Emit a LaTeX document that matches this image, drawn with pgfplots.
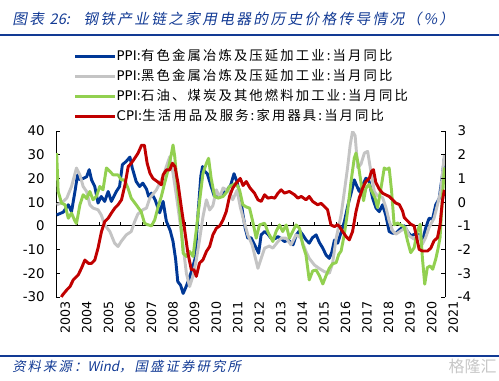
\documentclass[border=0pt]{standalone}
\usepackage{fontspec}
\usepackage{pgfplots}
\pgfplotsset{compat=1.18}
\setmainfont{DejaVu Sans}
\newfontfamily\cjkleg{Noto Sans CJK SC}[LetterSpace=16]
\newfontfamily\cjktitle{Noto Sans CJK SC}[FakeSlant=0.2,LetterSpace=16]
\newfontfamily\lattitle{Noto Sans CJK SC}[FakeSlant=0.2]
\newfontfamily\cjkplain{Noto Sans CJK SC}
\definecolor{cblue}{RGB}{0,56,150}
\definecolor{cgray}{RGB}{196,196,196}
\definecolor{cgreen}{RGB}{146,208,80}
\definecolor{cred}{RGB}{192,0,0}
\definecolor{tblue}{RGB}{18,58,148}
\begin{document}
\begin{tikzpicture}
\useasboundingbox (0pt,0pt) rectangle (374.25pt,285pt);
\node[anchor=base west, text=tblue, font=\fontsize{11}{11}\selectfont, inner sep=0pt] at (9pt,267pt) {{\cjktitle 图表}{\lattitle\ \,26:}\hspace{10pt}{\cjktitle 钢铁产业链之家用电器的历史价格传导情况（\%）}};
\draw[tblue, line width=1.6pt] (0pt,258.75pt) -- (374.25pt,258.75pt);
\draw[tblue, line width=1.6pt] (0pt,18pt) -- (374.25pt,18pt);
\node[anchor=base west, text=tblue, font=\fontsize{10}{10}\selectfont, inner sep=0pt] at (9pt,6.75pt) {{\cjktitle 资料来源：}{\lattitle Wind}{\cjktitle ，国盛证券研究所}};
\node[anchor=base east, text=black!22, font=\cjkplain\fontsize{12}{12}\selectfont, inner sep=0pt] at (372.75pt,5.5pt) {格隆汇};

\begin{axis}[
  at={(42pt,62.25pt)}, anchor=south west, scale only axis,
  width=291.75pt, height=124.5pt,
  xmin=2003, xmax=2021.05, ymin=-30, ymax=40,
  axis y line*=left, axis x line*=bottom,
  x axis line style={draw=none}, xtick style={draw=none},
  xtick={2003,2004,...,2021},
  xticklabels={2003,2004,2005,2006,2007,2008,2009,2010,2011,2012,2013,2014,2015,2016,2017,2018,2019,2020,2021},
  xticklabel style={rotate=90, anchor=east, font=\fontsize{9.5}{10}\selectfont, yshift=-7pt},
  ytick={-30,-20,...,40},
  yticklabel style={font=\fontsize{10}{10}\selectfont, xshift=-5pt},
  /pgf/number format/assume math mode=true,
  tick align=inside, major tick length=3pt,
  y axis line style={line width=0.6pt}, ytick style={line width=0.6pt, black},
  legend style={at={(0.045,1.49)}, anchor=north west, draw=none, fill=none,
    font=\fontsize{10}{10}\selectfont, row sep=5pt, inner sep=0pt,
    nodes={inner sep=0pt, text height=8pt, text depth=2pt}},
  legend cell align=left,
  legend image code/.code={\draw[#1] (0pt,0pt) -- (30pt,0pt);},
  every axis plot/.append style={line join=round},
]
\draw[black, line width=0.6pt] (axis cs:2003,0) -- (axis cs:2021.05,0);
\pgfplotsinvokeforeach{2004,2005,...,2020}{\draw[black, line width=0.6pt] (axis cs:#1,0) -- ++(0pt,3pt);}
\addplot[cblue, line width=2.2pt] table {
2003.03 4.6
2003.34 5.8
2003.57 8.9
2003.72 6.0
2003.88 14.5
2004.00 21.5
2004.11 19.4
2004.26 20.0
2004.42 20.7
2004.54 23.7
2004.65 19.4
2004.80 16.6
2004.95 9.6
2005.10 12.4
2005.26 10.3
2005.42 14.5
2005.57 10.3
2005.80 14.5
2005.95 16.6
2006.08 25.8
2006.26 27.2
2006.43 29.0
2006.54 24.4
2006.72 18.7
2006.88 16.6
2007.03 18.0
2007.20 15.5
2007.30 12.4
2007.43 13.8
2007.60 11.0
2007.81 5.5
2007.97 10.3
2008.12 2.0
2008.30 -2.0
2008.43 -6.6
2008.55 -14
2008.65 -23.5
2008.78 -25
2008.90 -28.5
2009.02 -26
2009.15 -23
2009.28 -19.3
2009.45 -14
2009.59 5.0
2009.72 21
2009.80 25
2009.90 23
2010.02 22
2010.20 16.6
2010.35 12.4
2010.55 13
2010.75 13.5
2010.92 15
2011.10 17
2011.26 22
2011.40 18.5
2011.55 12.5
2011.67 5.0
2011.78 -1
2011.90 -5.2
2012.05 -5
2012.29 -9.4
2012.40 -11.5
2012.52 -3.8
2012.68 -2.4
2012.83 -3.5
2012.98 -5.2
2013.15 -5.5
2013.30 -4.5
2013.45 -5.5
2013.60 -6.6
2013.78 -6
2014.00 -8
2014.15 -3.8
2014.30 -2
2014.45 -3.8
2014.60 -5.9
2014.75 -7.3
2014.90 -5
2015.07 -3.8
2015.22 -7
2015.38 -9.4
2015.53 -12.3
2015.68 -13.7
2015.80 -11
2015.92 -6
2016.07 -7.3
2016.22 -3
2016.38 1.8
2016.55 8.9
2016.70 14
2016.84 19.4
2016.95 17
2017.07 14.5
2017.22 17
2017.38 20.1
2017.52 19
2017.69 11.7
2017.85 7.5
2018.00 6.0
2018.15 8.9
2018.30 4.6
2018.46 -2.4
2018.62 -3.1
2018.77 -3.1
2018.95 -1.5
2019.16 0
2019.31 -2.4
2019.47 -4.2
2019.65 -3.5
2019.85 -3.8
2020.00 -6.6
2020.15 -1
2020.31 3.2
2020.47 2.8
2020.62 8.9
2020.78 11.5
2020.93 21.5
2021.02 28.6
};
\addlegendentry{PPI:{\cjkleg 有色金属冶炼及压延加工业:当月同比}}
\addplot[cgray, line width=2.2pt] table {
2003.03 8.9
2003.25 9.6
2003.50 11.7
2003.72 16.6
2003.95 24.4
2004.11 21.5
2004.26 16.6
2004.42 14.5
2004.57 8.9
2004.72 7.5
2004.95 6.8
2005.10 4.6
2005.26 0.4
2005.50 -2.4
2005.72 -7.3
2005.88 -8.7
2006.03 -6.5
2006.26 -3.8
2006.49 -2.4
2006.65 1.8
2006.80 5.0
2007.03 6.8
2007.20 7.5
2007.35 11.7
2007.66 15.2
2007.97 20.8
2008.12 25
2008.28 29.2
2008.43 22.2
2008.59 12.4
2008.74 2.5
2008.90 -8.7
2009.05 -20
2009.20 -25.6
2009.35 -21.3
2009.51 -14.3
2009.66 -5.9
2009.82 3.9
2009.98 11
2010.13 6.7
2010.28 8.5
2010.44 15.2
2010.60 12
2010.75 16
2010.90 15.2
2011.05 14.5
2011.20 11
2011.40 15
2011.55 8
2011.72 2
2011.90 -3.8
2012.10 -8
2012.37 -17.9
2012.52 -13.7
2012.68 -9.4
2012.90 -8.5
2013.06 -9.4
2013.30 -6.6
2013.45 -5.2
2013.68 -5.2
2013.90 -8
2014.14 -3.8
2014.35 -5
2014.60 -10.8
2014.75 -13.7
2014.99 -16.5
2015.22 -18
2015.45 -19.3
2015.68 -20
2015.83 -16
2016.00 -5.2
2016.10 -1
2016.23 4.6
2016.38 14.5
2016.53 24.6
2016.65 34
2016.76 39.9
2016.88 38
2017.00 24.6
2017.15 26
2017.31 30.7
2017.46 31.4
2017.61 23
2017.77 14.5
2017.92 12.7
2018.15 12
2018.31 7.7
2018.46 2
2018.62 -2.1
2018.77 -3.5
2019.00 -2.1
2019.23 -0.7
2019.39 -4.2
2019.62 -5.6
2019.85 -4.2
2020.00 -7.7
2020.15 -5
2020.31 -0.7
2020.54 3.2
2020.70 8.9
2020.85 14.5
2021.02 30
};
\addlegendentry{PPI:{\cjkleg 黑色金属冶炼及压延加工业:当月同比}}
\addplot[cgreen, line width=2.2pt] table {
2003.03 30.7
2003.10 14.5
2003.26 9.6
2003.42 8.9
2003.57 3.2
2003.72 5.4
2003.88 2.0
2003.95 1.0
2004.11 8.9
2004.26 13.1
2004.42 11.5
2004.57 14.5
2004.72 11.0
2004.88 12.5
2005.03 16.6
2005.18 15.2
2005.34 24.4
2005.50 23
2005.65 21.5
2005.88 21.5
2006.03 19.4
2006.18 19.4
2006.34 15.9
2006.49 11.7
2006.72 8.9
2006.95 6.0
2007.11 1.1
2007.25 0.5
2007.43 0
2007.58 2.5
2007.74 8.1
2007.89 12.5
2008.04 18
2008.20 23.6
2008.36 30.6
2008.43 34.1
2008.51 29.2
2008.66 13.8
2008.78 2.5
2008.90 -11.5
2009.05 -12.9
2009.20 -10.8
2009.36 -12.9
2009.51 -1.7
2009.67 11
2009.82 22.2
2009.98 26.4
2010.08 28.5
2010.20 20
2010.36 12.4
2010.52 11.7
2010.75 12.4
2010.90 14
2011.05 16.6
2011.20 17.3
2011.36 18
2011.52 15.0
2011.67 8.9
2011.82 8
2011.98 7.5
2012.13 1.8
2012.29 -5.2
2012.44 0.4
2012.68 1.1
2012.83 -2.5
2013.06 -6.6
2013.21 -2.4
2013.37 0.4
2013.52 -2.4
2013.68 0.4
2013.83 -5.2
2013.98 -2.4
2014.14 0.4
2014.30 -1
2014.45 -8
2014.60 -12.3
2014.75 -22.8
2014.91 -19
2015.07 -18.6
2015.22 -21
2015.38 -24.5
2015.53 -21
2015.68 -17.9
2015.83 -16
2016.00 -15.5
2016.12 -12
2016.23 -10.6
2016.38 -3.5
2016.53 6.2
2016.69 18.7
2016.84 28.6
2016.92 30.7
2017.03 25.8
2017.15 18.3
2017.27 10.6
2017.38 15.9
2017.53 17.5
2017.64 14.8
2017.80 11.9
2017.92 7.7
2018.08 15.9
2018.23 24.4
2018.35 23.8
2018.46 24.4
2018.57 14.8
2018.69 0.4
2018.85 1.2
2019.00 0.4
2019.16 -0.5
2019.31 -6.3
2019.46 -11.3
2019.62 -9.2
2019.77 -2
2019.90 0.7
2020.00 -13.4
2020.11 -24.6
2020.23 -17.6
2020.36 -16.9
2020.48 -18.3
2020.62 -14
2020.72 -9.9
2020.82 -5
2020.93 11.9
2021.02 24.6
};
\addlegendentry{PPI:{\cjkleg 石油、煤炭及其他燃料加工业:当月同比}}
\addlegendimage{cred, line width=2.2pt}
\addlegendentry{CPI:{\cjkleg 生活用品及服务:家用器具:当月同比}}
\end{axis}

\begin{axis}[
  at={(42pt,62.25pt)}, anchor=south west, scale only axis,
  width=291.75pt, height=124.5pt,
  xmin=2003, xmax=2021.05, ymin=-4, ymax=3,
  axis y line*=right, axis x line=none,
  ytick={-4,-3,...,3},
  yticklabel style={font=\fontsize{10}{10}\selectfont, xshift=6pt},
  /pgf/number format/assume math mode=true,
  tick align=inside, major tick length=3pt,
  y axis line style={line width=0.6pt}, ytick style={line width=0.6pt, black},
  every axis plot/.append style={line join=round},
]
\addplot[cred, line width=2.2pt] table {
2003.25 -4.0
2003.30 -3.92
2003.50 -3.7
2003.65 -3.56
2003.80 -3.28
2004.03 -3.07
2004.18 -2.79
2004.34 -2.44
2004.50 -2.58
2004.65 -2.58
2004.80 -2.44
2004.95 -1.94
2005.11 -1.24
2005.26 -0.82
2005.42 -0.68
2005.57 -0.46
2005.73 -0.25
2005.88 -0.11
2006.04 0.1
2006.20 0.73
2006.35 1.5
2006.50 1.65
2006.66 1.86
2006.81 2.07
2006.97 2.4
2007.10 2.4
2007.23 1.64
2007.36 1.22
2007.50 1.0
2007.70 0.87
2007.89 0.73
2007.97 1.15
2008.12 1.36
2008.28 1.36
2008.40 1.64
2008.52 1.5
2008.66 0.8
2008.81 -0.19
2008.97 -1.17
2009.12 -2.15
2009.28 -2.85
2009.40 -2.85
2009.51 -3.13
2009.66 -2.57
2009.82 -2.43
2009.98 -2.08
2010.13 -1.87
2010.28 -1.38
2010.44 -1.1
2010.60 -1.0
2010.75 -0.75
2010.90 -0.4
2011.05 0.24
2011.20 0.59
2011.36 0.8
2011.55 1.0
2011.68 0.7
2011.83 0.87
2012.00 0.6
2012.21 0.38
2012.37 0.1
2012.52 0.03
2012.68 0.31
2012.83 0.17
2013.00 0.2
2013.15 0.17
2013.30 0.38
2013.45 0.52
2013.60 0.38
2013.83 0.45
2014.07 0.31
2014.22 0.17
2014.38 0.24
2014.60 0.1
2014.75 0.24
2014.91 0.03
2015.14 -0.11
2015.30 -0.05
2015.45 -0.18
2015.60 -0.32
2015.76 -0.96
2015.92 -1.03
2016.07 -0.95
2016.15 -1.03
2016.30 -1.24
2016.46 -1.45
2016.61 -1.59
2016.76 -1.24
2016.92 -0.4
2017.07 0.17
2017.23 0.59
2017.38 0.87
2017.54 1.01
2017.64 1.3
2017.73 1.37
2017.84 0.83
2018.00 0.55
2018.15 0.38
2018.30 0.31
2018.46 0.24
2018.62 0.1
2018.77 -0.04
2018.93 -0.1
2019.08 -0.37
2019.16 -0.65
2019.31 -0.79
2019.46 -0.93
2019.62 -1.0
2019.70 -1.35
2019.85 -1.99
2020.00 -2.06
2020.24 -2.06
2020.39 -1.94
2020.54 -1.63
2020.70 -1.5
2020.82 -0.96
2020.93 0.06
2021.02 0.52
};
\end{axis}
\end{tikzpicture}
\end{document}
